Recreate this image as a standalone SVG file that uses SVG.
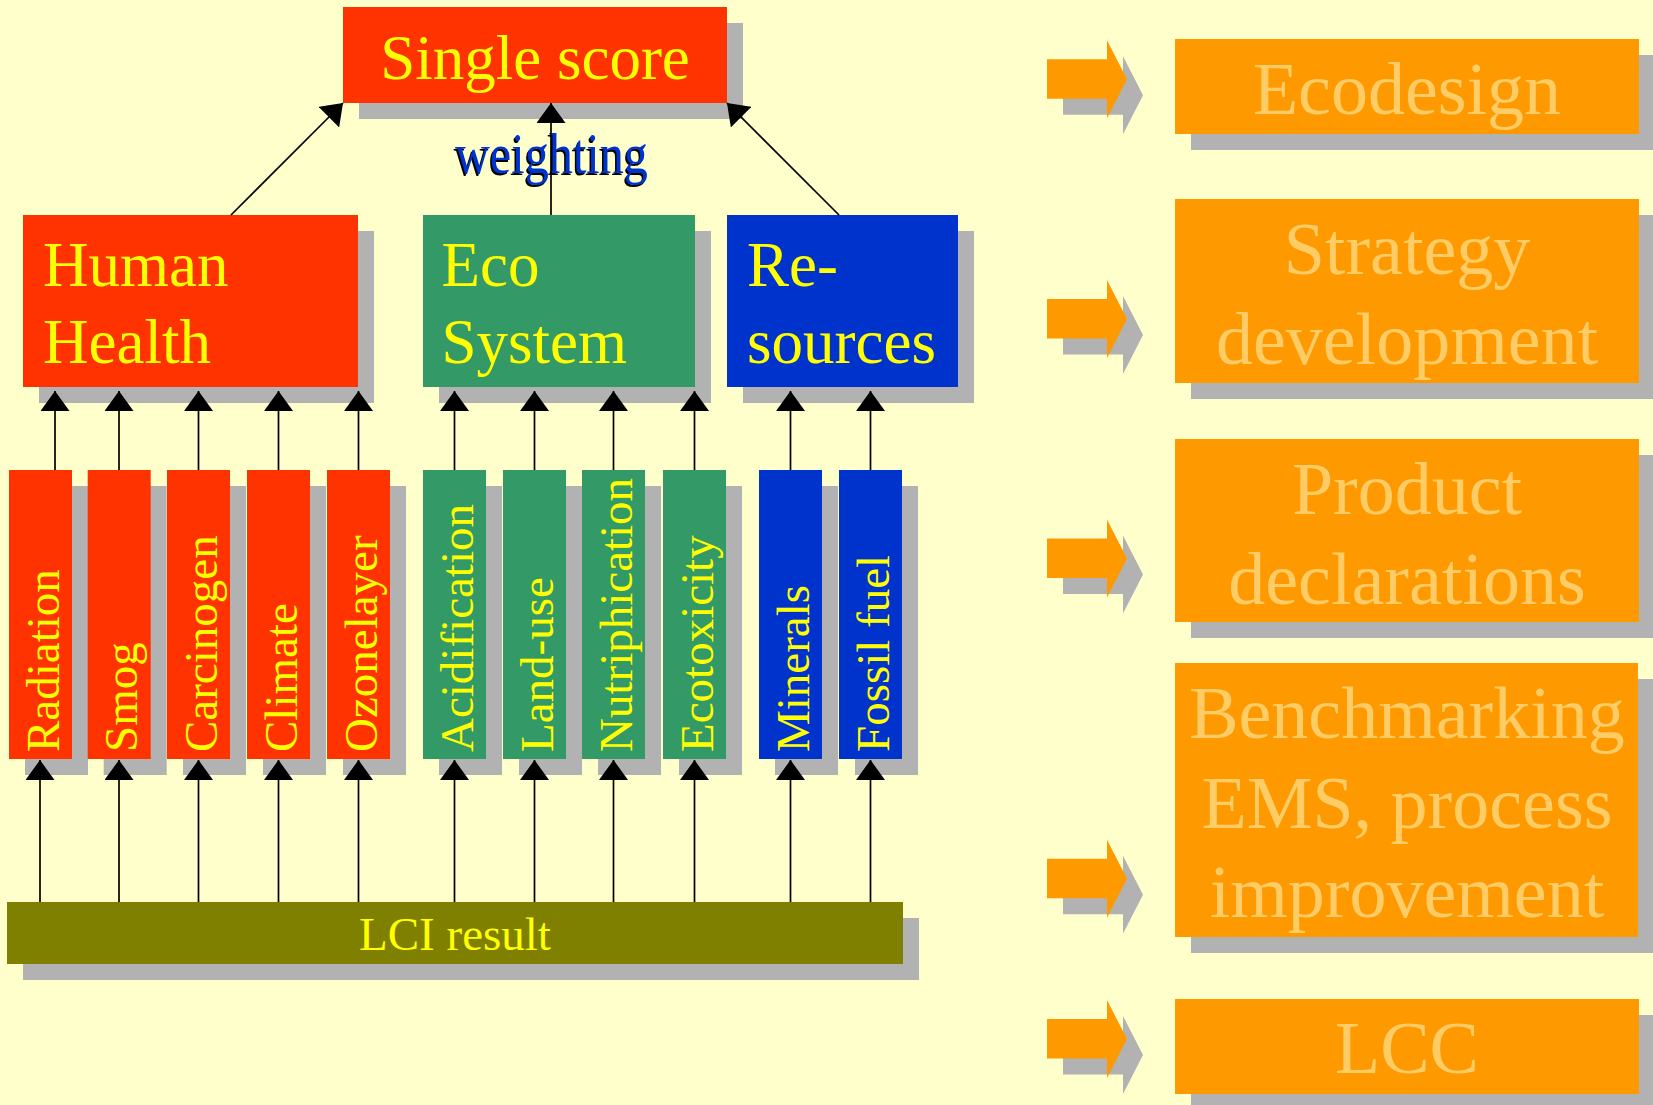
<svg xmlns="http://www.w3.org/2000/svg" width="1653" height="1105" viewBox="0 0 1653 1105">
  <defs>
    <style>
      text { font-family: "Liberation Serif", "Times New Roman", serif; }
      .shadow { fill: #b2b2b2; }
      .red { fill: #ff3300; }
      .green { fill: #339966; }
      .blue { fill: #0033cc; }
      .olive { fill: #808000; }
      .orange { fill: #ff9900; }
      .big { font-size: 63px; fill: #ffff00; }
      .bar { font-size: 47px; fill: #ffff00; }
      .use { font-size: 74px; fill: #ffcc66; text-anchor: middle; }
      .link { stroke: #000; stroke-width: 1.7; fill: none; marker-end: url(#head); }
    </style>
    <marker id="head" viewBox="0 0 20 29" refX="20" refY="14.5" markerWidth="20" markerHeight="29" markerUnits="userSpaceOnUse" orient="auto">
      <path d="M0,0 L20,14.5 L0,29 Z" fill="#000"/>
    </marker>
    <!-- block arrow pointing right, origin at the left end of the shaft centre -->
    <polygon id="block" points="0,-20 60,-20 60,-39 80,0 60,39 60,19.5 0,19.5"/>
  </defs>

  <rect width="1653" height="1105" fill="#ffffcc"/>

  <!-- top level -->
  <g id="single-score">
    <rect class="shadow" x="359" y="23" width="384" height="96"/>
    <rect class="red" x="343" y="7" width="384" height="96"/>
    <text class="big" x="535" y="79" text-anchor="middle">Single score</text>
  </g>

  <!-- damage categories -->
  <g id="human-health">
    <rect class="shadow" x="39" y="231" width="335" height="172"/>
    <rect class="red" x="23" y="215" width="335" height="172"/>
    <text class="big" x="43" y="286">Human</text>
    <text class="big" x="43" y="363">Health</text>
  </g>
  <g id="eco-system">
    <rect class="shadow" x="439" y="231" width="272" height="172"/>
    <rect class="green" x="423" y="215" width="272" height="172"/>
    <text class="big" x="441.5" y="286">Eco</text>
    <text class="big" x="441.5" y="363">System</text>
  </g>
  <g id="resources">
    <rect class="shadow" x="743" y="231" width="231" height="172"/>
    <rect class="blue" x="727" y="215" width="231" height="172"/>
    <text class="big" x="747" y="286">Re-</text>
    <text class="big" x="747" y="363">sources</text>
  </g>

  <!-- impact categories -->
  <g id="radiation">
    <rect class="shadow" x="25" y="486" width="63" height="289"/>
    <rect class="red" x="9" y="470" width="63" height="289"/>
    <text class="bar" transform="translate(58.5,752) rotate(-90)">Radiation</text>
  </g>
  <g id="smog">
    <rect class="shadow" x="103.7" y="486" width="63" height="289"/>
    <rect class="red" x="87.7" y="470" width="63" height="289"/>
    <text class="bar" transform="translate(137.2,752) rotate(-90)">Smog</text>
  </g>
  <g id="carcinogen">
    <rect class="shadow" x="183" y="486" width="63" height="289"/>
    <rect class="red" x="167" y="470" width="63" height="289"/>
    <text class="bar" transform="translate(216.5,752) rotate(-90)">Carcinogen</text>
  </g>
  <g id="climate">
    <rect class="shadow" x="263" y="486" width="63" height="289"/>
    <rect class="red" x="247" y="470" width="63" height="289"/>
    <text class="bar" transform="translate(296.5,752) rotate(-90)">Climate</text>
  </g>
  <g id="ozonelayer">
    <rect class="shadow" x="343" y="486" width="63" height="289"/>
    <rect class="red" x="327" y="470" width="63" height="289"/>
    <text class="bar" transform="translate(376.5,752) rotate(-90)">Ozonelayer</text>
  </g>
  <g id="acidification">
    <rect class="shadow" x="439" y="486" width="63" height="289"/>
    <rect class="green" x="423" y="470" width="63" height="289"/>
    <text class="bar" transform="translate(472.5,752) rotate(-90)">Acidification</text>
  </g>
  <g id="land-use">
    <rect class="shadow" x="519" y="486" width="63" height="289"/>
    <rect class="green" x="503" y="470" width="63" height="289"/>
    <text class="bar" transform="translate(552.5,752) rotate(-90)">Land-use</text>
  </g>
  <g id="nutriphication">
    <rect class="shadow" x="598" y="486" width="63" height="289"/>
    <rect class="green" x="582" y="470" width="63" height="289"/>
    <text class="bar" transform="translate(631.5,752) rotate(-90)">Nutriphication</text>
  </g>
  <g id="ecotoxicity">
    <rect class="shadow" x="679" y="486" width="63" height="289"/>
    <rect class="green" x="663" y="470" width="63" height="289"/>
    <text class="bar" transform="translate(712.5,752) rotate(-90)">Ecotoxicity</text>
  </g>
  <g id="minerals">
    <rect class="shadow" x="775" y="486" width="63" height="289"/>
    <rect class="blue" x="759" y="470" width="63" height="289"/>
    <text class="bar" transform="translate(808.5,752) rotate(-90)">Minerals</text>
  </g>
  <g id="fossil-fuel">
    <rect class="shadow" x="855" y="486" width="63" height="289"/>
    <rect class="blue" x="839" y="470" width="63" height="289"/>
    <text class="bar" transform="translate(888.5,752) rotate(-90)">Fossil fuel</text>
  </g>

  <!-- inventory -->
  <g id="lci-result">
    <rect class="shadow" x="23" y="918" width="896" height="62"/>
    <rect class="olive" x="7" y="902" width="896" height="62"/>
    <text x="455" y="950" text-anchor="middle" font-size="47" fill="#ffff00">LCI result</text>
  </g>

  <!-- arrows between levels -->
  <g id="connectors">
    <text x="453.5" y="174.5" font-size="56" fill="#000" textLength="193" lengthAdjust="spacingAndGlyphs">weighting</text>
    <text x="455" y="173" font-size="56" fill="#0033cc" textLength="193" lengthAdjust="spacingAndGlyphs">weighting</text>
    <line class="link" x1="231" y1="215" x2="343" y2="103"/>
    <line class="link" x1="551" y1="215" x2="551" y2="103"/>
    <line class="link" x1="839" y1="215" x2="727" y2="103"/>

    <line class="link" x1="55" y1="470" x2="55" y2="391"/>
    <line class="link" x1="119" y1="470" x2="119" y2="391"/>
    <line class="link" x1="198.5" y1="470" x2="198.5" y2="391"/>
    <line class="link" x1="278.5" y1="470" x2="278.5" y2="391"/>
    <line class="link" x1="358.5" y1="470" x2="358.5" y2="391"/>
    <line class="link" x1="454.5" y1="470" x2="454.5" y2="391"/>
    <line class="link" x1="534.5" y1="470" x2="534.5" y2="391"/>
    <line class="link" x1="613.5" y1="470" x2="613.5" y2="391"/>
    <line class="link" x1="694.5" y1="470" x2="694.5" y2="391"/>
    <line class="link" x1="790.5" y1="470" x2="790.5" y2="391"/>
    <line class="link" x1="870.5" y1="470" x2="870.5" y2="391"/>

    <line class="link" x1="40" y1="902" x2="40" y2="760"/>
    <line class="link" x1="119" y1="902" x2="119" y2="760"/>
    <line class="link" x1="198.5" y1="902" x2="198.5" y2="760"/>
    <line class="link" x1="278.5" y1="902" x2="278.5" y2="760"/>
    <line class="link" x1="358.5" y1="902" x2="358.5" y2="760"/>
    <line class="link" x1="454.5" y1="902" x2="454.5" y2="760"/>
    <line class="link" x1="534.5" y1="902" x2="534.5" y2="760"/>
    <line class="link" x1="613.5" y1="902" x2="613.5" y2="760"/>
    <line class="link" x1="694.5" y1="902" x2="694.5" y2="760"/>
    <line class="link" x1="790.5" y1="902" x2="790.5" y2="760"/>
    <line class="link" x1="870.5" y1="902" x2="870.5" y2="760"/>
  </g>

  <!-- applications -->
  <g id="arrow-ecodesign">
    <use href="#block" class="shadow" transform="translate(1063,95.3)"/>
    <use href="#block" class="orange" transform="translate(1047,79.3)"/>
  </g>
  <g id="ecodesign">
    <rect class="shadow" x="1191" y="55" width="464" height="95"/>
    <rect class="orange" x="1175" y="39" width="464" height="95"/>
    <text class="use" x="1407" y="113.6">Ecodesign</text>
  </g>

  <g id="arrow-strategy">
    <use href="#block" class="shadow" transform="translate(1063,335)"/>
    <use href="#block" class="orange" transform="translate(1047,319)"/>
  </g>
  <g id="strategy-development">
    <rect class="shadow" x="1191" y="215" width="464" height="184"/>
    <rect class="orange" x="1175" y="199" width="464" height="184"/>
    <text class="use" x="1407" y="274">Strategy</text>
    <text class="use" x="1407" y="364">development</text>
  </g>

  <g id="arrow-declarations">
    <use href="#block" class="shadow" transform="translate(1063,574.6)"/>
    <use href="#block" class="orange" transform="translate(1047,558.6)"/>
  </g>
  <g id="product-declarations">
    <rect class="shadow" x="1191" y="455" width="464" height="183"/>
    <rect class="orange" x="1175" y="439" width="464" height="183"/>
    <text class="use" x="1407" y="513.6">Product</text>
    <text class="use" x="1407" y="604">declarations</text>
  </g>

  <g id="arrow-benchmarking">
    <use href="#block" class="shadow" transform="translate(1063,894.7)"/>
    <use href="#block" class="orange" transform="translate(1047,878.7)"/>
  </g>
  <g id="benchmarking">
    <rect class="shadow" x="1191" y="679" width="464" height="274"/>
    <rect class="orange" x="1175" y="663" width="463" height="274"/>
    <text class="use" x="1407" y="737.5">Benchmarking</text>
    <text class="use" x="1407" y="828">EMS, process</text>
    <text class="use" x="1407" y="917">improvement</text>
  </g>

  <g id="arrow-lcc">
    <use href="#block" class="shadow" transform="translate(1063,1055)"/>
    <use href="#block" class="orange" transform="translate(1047,1039)"/>
  </g>
  <g id="lcc">
    <rect class="shadow" x="1191" y="1015" width="464" height="95"/>
    <rect class="orange" x="1175" y="999" width="464" height="95"/>
    <text class="use" x="1407" y="1072.6">LCC</text>
  </g>
</svg>
